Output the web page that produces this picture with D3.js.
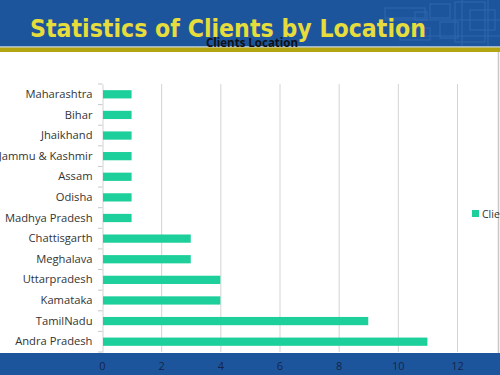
<!DOCTYPE html>
<html><head><meta charset="utf-8">
<script src="https://cdn.jsdelivr.net/npm/d3@7"></script>
<style>body{margin:0;background:#fff}svg{display:block}</style>
</head><body>
<script>
const categories = ["Maharashtra","Bihar","Jhaikhand","Jammu & Kashmir","Assam","Odisha","Madhya Pradesh","Chattisgarth","Meghalava","Uttarpradesh","Kamataka","TamilNadu","Andra Pradesh"];
const clients = [1,1,1,1,1,1,1,3,3,4,4,9,11];
const xTicks = [0,2,4,6,8,10,12];
const seriesName = "Clients";

const W=500,H=375;
const svg=d3.select("body").append("svg").attr("width",W).attr("height",H);

// header
svg.append("rect").attr("x",0).attr("y",0).attr("width",W).attr("height",47).attr("fill","#1d559c");
// circuit texture
const tex=svg.append("g").attr("fill","none").attr("stroke","#3a74ba").attr("stroke-width",1.2).attr("opacity",0.55);
[[385,8,40,10],[430,4,20,14],[455,2,30,40],[440,22,18,16],[400,28,30,12],[470,10,25,20],[415,12,12,8]].forEach(r=>tex.append("rect").attr("x",r[0]).attr("y",r[1]).attr("width",r[2]).attr("height",r[3]));
[[380,20,500,20],[420,36,500,36],[462,0,462,46],[488,0,488,46]].forEach(l=>tex.append("line").attr("x1",l[0]).attr("y1",l[1]).attr("x2",l[2]).attr("y2",l[3]));
svg.append("rect").attr("x",0).attr("y",46).attr("width",W).attr("height",1.5).attr("fill","#9fb6d0");
svg.append("rect").attr("x",0).attr("y",47.5).attr("width",W).attr("height",4.5).attr("fill","#b3a412");

svg.append("text").attr("x",228).attr("y",37).attr("text-anchor","middle")
  .attr("font-family","DejaVu Sans").attr("font-weight","bold").attr("font-size",25)
  .attr("fill","#e6dc3c").attr("textLength",396).attr("lengthAdjust","spacingAndGlyphs")
  .text("Statistics of Clients by Location");
svg.append("text").attr("x",252).attr("y",47).attr("text-anchor","middle")
  .attr("font-family","Open Sans").attr("font-weight","bold").attr("font-size",11.5)
  .attr("fill","#111").text("Clients Location");

// bottom band
svg.append("rect").attr("x",0).attr("y",353).attr("width",W).attr("height",22).attr("fill","#1d559c");
// right border
svg.append("line").attr("x1",498.5).attr("x2",498.5).attr("y1",52).attr("y2",353).attr("stroke","#c8c8c8").attr("stroke-width",1.5);

const x=d3.scaleLinear().domain([0,12]).range([102,457]);
const y=d3.scaleBand().domain(categories).range([84,352]).paddingInner(0.6).paddingOuter(0.3);

// gridlines
svg.append("g").selectAll("line").data(xTicks.slice(1)).join("line")
  .attr("x1",d=>x(d)+0.5).attr("x2",d=>x(d)+0.5).attr("y1",84).attr("y2",352)
  .attr("stroke","#d4d4d4").attr("stroke-width",1);

// y axis
const yAxis=svg.append("g").attr("transform","translate(102.5,0)")
  .call(d3.axisLeft(y).tickSize(0).tickPadding(10));
yAxis.select(".domain").attr("stroke","#d4d4d4");
yAxis.selectAll("text").attr("font-family","Open Sans").attr("font-size",11.2).attr("fill","#333");
// small ticks at band boundaries
const bounds=d3.range(categories.length+1).map(i=>84+i*(268/categories.length));
svg.append("g").selectAll("line").data(bounds).join("line")
  .attr("x1",98).attr("x2",102.5).attr("y1",d=>d).attr("y2",d=>d).attr("stroke","#c8c8c8");

// bars
svg.append("g").selectAll("rect").data(categories).join("rect")
  .attr("x",x(0)+1).attr("y",d=>y(d)).attr("height",y.bandwidth())
  .attr("width",(d,i)=>x(clients[i])-x(0)-1).attr("fill","#1ccf9b");

// x axis labels
const xAxis=svg.append("g").attr("transform","translate(0,358)")
  .call(d3.axisBottom(x).tickValues(xTicks).tickSize(0).tickPadding(4));
xAxis.select(".domain").remove();
xAxis.selectAll("text").attr("font-family","Open Sans").attr("font-size",11).attr("fill","#14264a");

// legend
svg.append("rect").attr("x",472).attr("y",210).attr("width",7).attr("height",7).attr("fill","#1ccf9b");
svg.append("text").attr("x",482).attr("y",217.5).attr("font-family","Open Sans").attr("font-size",10.5).attr("fill","#333").text(seriesName);
</script>
</body></html>
